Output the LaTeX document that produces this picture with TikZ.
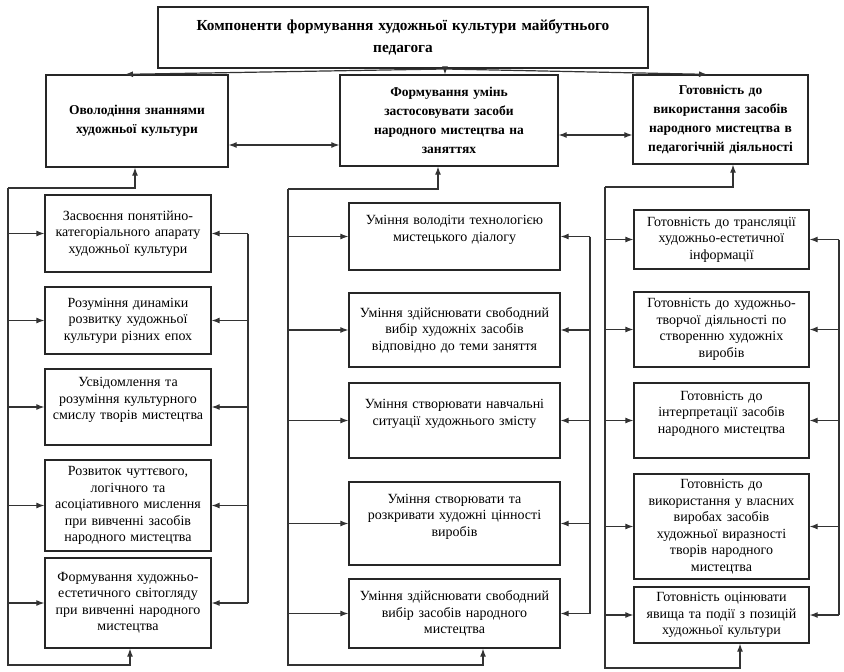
\documentclass[tikz,border=0pt]{standalone}
\usepackage{fontspec}
\setmainfont{Liberation Serif}
\usetikzlibrary{arrows.meta}

\tikzset{
  blok/.style={draw=black!85, line width=1.3pt, align=center, inner sep=2pt,
    font=\fontsize{14}{16.5}\selectfont},
  golov/.style={blok, font=\bfseries\fontsize{13.5}{19}\selectfont},
  zv/.style={draw=black!80, line width=1.2pt, -{Latex[length=8pt,width=6pt]}},
  shyna/.style={draw=black!80, line width=1.2pt},
}

\begin{document}
\begin{tikzpicture}[x=1pt,y=-1pt]
    \useasboundingbox (0,0) rectangle (844,672);
    % main box
    \node[golov, font=\bfseries\fontsize{15.3}{22}\selectfont, text width=486pt, minimum height=61pt] (komp) at (403,37.5) {Компоненти формування художньої культури майбутнього\\педагога};
    % three components
    \node[golov, text width=178pt, minimum height=92pt] (zn) at (137,121) {Оволодіння знаннями\\художньої культури};
    \node[golov, text width=214pt, minimum height=91pt] (um) at (449,120.5) {Формування умінь\\застосовувати засоби\\народного мистецтва на\\заняттях};
    \node[golov, text width=171pt, minimum height=89pt] (got) at (720.5,119.5) {Готовність до\\використання засобів\\народного мистецтва в\\педагогічній діяльності};

    % knowledge column
    \node[blok, text width=162pt, minimum height=77pt] (zn1) at (128,233.5) {Засвоєння понятійно-\\категоріального апарату\\художньої культури};
    \node[blok, text width=162pt, minimum height=67pt] (zn2) at (128,320.5) {Розуміння динаміки\\розвитку художньої\\культури різних епох};
    \node[blok, text width=162pt, minimum height=76pt] (zn3) at (128,407) {Усвідомлення та\\розуміння культурного\\смислу творів мистецтва\\~};
    \node[blok, text width=162pt, minimum height=91pt] (zn4) at (128,505.5) {Розвиток чуттєвого,\\логічного та\\асоціативного мислення\\при вивченні засобів\\народного мистецтва};
    \node[blok, text width=162pt, minimum height=90pt] (zn5) at (128,603) {Формування художньо-\\естетичного світогляду\\при вивченні народного\\мистецтва};

    % skills column
    \node[blok, text width=207pt, minimum height=67pt] (um1) at (454.5,236.5) {Уміння володіти технологією\\мистецького діалогу\\~};
    \node[blok, text width=207pt, minimum height=74pt] (um2) at (454.5,330) {Уміння здійснювати свободний\\вибір художніх засобів\\відповідно до теми заняття};
    \node[blok, text width=207pt, minimum height=75pt] (um3) at (454.5,420.5) {Уміння створювати навчальні\\ситуації художнього змісту\\~};
    \node[blok, text width=207pt, minimum height=83pt] (um4) at (454.5,523.5) {Уміння створювати та\\розкривати художні цінності\\виробів\\~};
    \node[blok, text width=207pt, minimum height=69pt] (um5) at (454.5,613.5) {Уміння здійснювати свободний\\вибір засобів народного\\мистецтва};

    % readiness column
    \node[blok, text width=171pt, minimum height=59pt] (got1) at (721.5,239.5) {Готовність до трансляції\\художньо-естетичної\\інформації};
    \node[blok, text width=171pt, minimum height=75pt] (got2) at (721.5,329.5) {Готовність до художньо-\\творчої діяльності по\\створенню художніх\\виробів};
    \node[blok, text width=171pt, minimum height=75pt] (got3) at (721.5,420.5) {Готовність до\\інтерпретації засобів\\народного мистецтва\\~};
    \node[blok, text width=171pt, minimum height=105pt] (got4) at (721.5,526.5) {Готовність до\\використання у власних\\виробах засобів\\художньої виразності\\творів народного\\мистецтва};
    \node[blok, text width=171pt, minimum height=56pt] (got5) at (721.5,615) {Готовність оцінювати\\явища та події з позицій\\художньої культури};

    % arrows from the main box
    \coordinate (rozp) at (445,69);
    \draw[zv] (rozp) -- (um.north -| rozp);
    \draw[zv] (rozp) -- ([xshift=-12pt]zn.north);
    \draw[zv] (rozp) -- ([xshift=-13.5pt]got.north);
    \draw[zv, {Latex[length=8pt,width=6pt]}-{Latex[length=8pt,width=6pt]}] ([yshift=-24pt]zn.east) -- ([yshift=-24pt]zn.east -| um.west);
    \draw[zv, {Latex[length=8pt,width=6pt]}-{Latex[length=8pt,width=6pt]}] ([yshift=-14.5pt]um.east) -- ([yshift=-14.5pt]um.east -| got.west);

    % bus lines of the columns
    \coordinate (znL) at (8,188);   \coordinate (znN) at (8,665);   \coordinate (znR) at (248,0);
    \coordinate (umL) at (288,189); \coordinate (umN) at (288,665); \coordinate (umR) at (590,0);
    \coordinate (gotL) at (605,187); \coordinate (gotN) at (605,668); \coordinate (gotR) at (839,0);

    \foreach \k/\a/\b in {zn/-2/2, um/-11/28.5, got/12.5/18.5} {
        \draw[zv] (\k L) -| ([xshift=\a pt]\k.south);
        \draw[zv] (\k L) -- (\k N) -| ([xshift=\b pt]\k5.south);
        \draw[shyna] (\k R |- \k1.east) -- (\k R |- \k5.east);
        \foreach \i in {1,...,5} {
            \draw[zv] (\k L |- \k\i.west) -- (\k\i.west);
            \draw[zv] (\k R |- \k\i.east) -- (\k\i.east);
        }
    }
\end{tikzpicture}
\end{document}
